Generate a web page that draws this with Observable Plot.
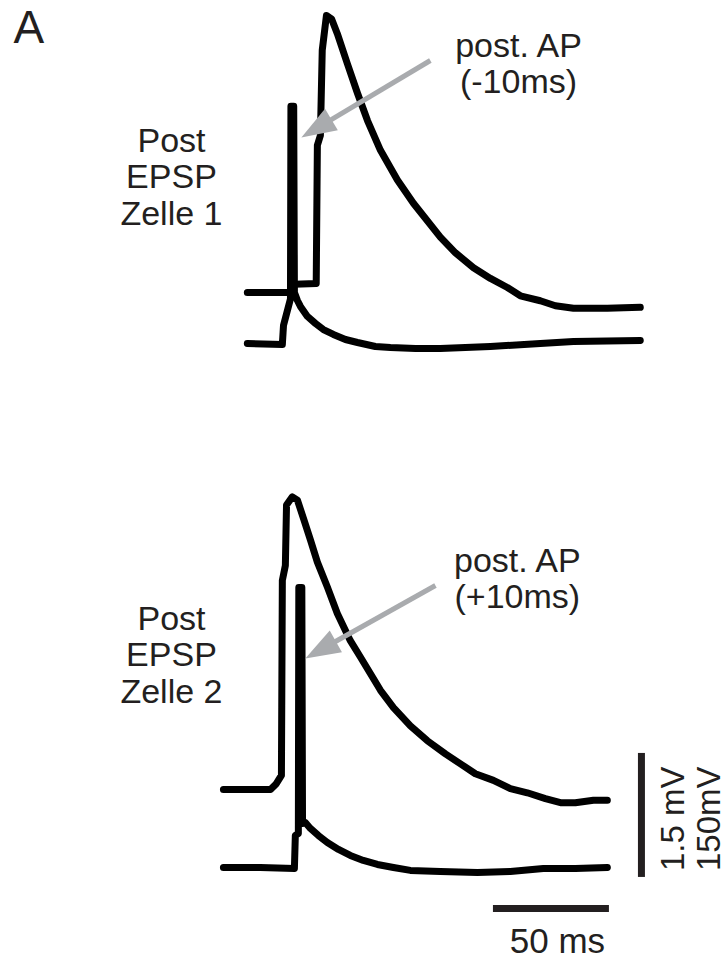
<!DOCTYPE html>
<html><head><meta charset="utf-8">
<script src="https://cdn.jsdelivr.net/npm/d3@7"></script>
<script src="https://cdn.jsdelivr.net/npm/@observablehq/plot@0.6"></script>
<style>html,body{margin:0;padding:0;background:#fff;} #chart svg{display:block;}</style>
</head><body><div id="chart"></div>
<script>
// ---- Data (time in ms on a common time base; voltage relative to each trace's baseline) ----
// Cell 1: postsynaptic EPSP (mV) and postsynaptic AP (mV), AP 10 ms before EPSP
const cell1EpspTime = [10.3, 28.8, 30.6, 40.0, 40.5, 41.8, 42.6, 44.4, 46.6, 49.1, 53.4, 57.8, 62.1, 67.7, 75.0, 81.9, 93.5, 100.0, 107.8, 115.1, 122.4, 128.0, 136.6, 143.1, 150.9, 165.5, 179.7];
const cell1EpspMv   = [0, 0, 0.10, 0.11, 1.78, 1.90, 2.93, 3.35, 3.31, 3.13, 2.77, 2.41, 2.08, 1.72, 1.36, 1.08, 0.67, 0.48, 0.30, 0.17, 0.06, -0.04, -0.10, -0.16, -0.19, -0.19, -0.18];
const cell1ApTime   = [10.3, 25.4, 25.9, 28.9, 29.1, 30.3, 30.6, 31.9, 33.2, 36.2, 39.7, 43.1, 47.4, 52.6, 57.8, 65.5, 72.0, 82.8, 93.5, 115.1, 136.6, 150.9, 179.7];
const cell1ApMv     = [0, -1.2, 22, 54, 287, 287, 61.7, 52.0, 44.8, 32.7, 24.2, 16.9, 10.9, 4.8, 1.2, -3.6, -4.8, -6.0, -6.0, -3.6, 0, 2.4, 3.6];
// Cell 2: AP 10 ms after EPSP onset
const cell2EpspTime = [0, 20.3, 22.8, 25.0, 25.4, 26.7, 27.2, 29.7, 31.9, 34.5, 37.5, 40.5, 44.8, 49.1, 54.7, 59.1, 63.4, 67.7, 73.3, 80.6, 87.9, 95.7, 102.2, 108.6, 116.4, 123.7, 131.0, 138.8, 145.3, 151.7, 159.5, 165.5];
const cell2EpspMv   = [0, 0, 0.07, 0.17, 2.53, 2.71, 3.44, 3.54, 3.50, 3.28, 3.02, 2.75, 2.45, 2.13, 1.80, 1.60, 1.40, 1.20, 0.99, 0.77, 0.59, 0.43, 0.31, 0.19, 0.11, 0.01, -0.04, -0.11, -0.16, -0.16, -0.13, -0.13];
const cell2ApTime   = [0, 15.9, 30.6, 31.0, 32.3, 32.5, 33.8, 34.1, 35.3, 37.5, 40.9, 44.8, 49.6, 54.7, 60.3, 66.4, 73.3, 80.6, 93.5, 109.5, 123.7, 137.9, 151.7, 165.5];
const cell2ApMv     = [0, 0, -1.2, 38.7, 41.1, 338.7, 338.7, 53.2, 54.4, 47.2, 38.7, 30.2, 21.8, 14.5, 8.5, 3.6, 0, -3.6, -4.8, -6.0, -4.8, -1.2, -1.2, 0];

// Labels
const panelLetter = "A";
const cellLabels = ["Post\nEPSP\nZelle 1", "Post\nEPSP\nZelle 2"];
const apLabels = ["post. AP\n(-10ms)", "post. AP\n(+10ms)"];
const voltageBarLabels = ["1.5 mV", "150mV"];
const timeBarLabel = "50 ms";
const epspBarMv = 1.5, apBarMv = 150, timeBarMs = 50;

// ---- Layout (display units: ms horizontally, EPSP-mV vertically) ----
const W = 727, H = 963;
const X_DOMAIN = [-96.1, 217.3];
const Y_DOMAIN = [-11.649, 0];
const AP_FACTOR = epspBarMv / apBarMv;
const traceOffsets = {epsp1: -3.532, ap1: -4.149, epsp2: -9.544, ap2: -10.487};
const FONT = "'Liberation Sans', Arial, Helvetica, sans-serif";
const INK = "#231f20";
const ARROW = "#a9abae";

const traces = [
  {name: "epsp1", t: cell1EpspTime, v: cell1EpspMv, f: 1},
  {name: "ap1", t: cell1ApTime, v: cell1ApMv, f: AP_FACTOR},
  {name: "epsp2", t: cell2EpspTime, v: cell2EpspMv, f: 1},
  {name: "ap2", t: cell2ApTime, v: cell2ApMv, f: AP_FACTOR}
];
const rows = traces.flatMap(tr => tr.t.map((t, i) => ({trace: tr.name, t, y: traceOffsets[tr.name] + tr.v[i] * tr.f})));

// Annotation anchors
const cellLabelPos = [{t: -22.4, y: -1.512}, {t: -22.4, y: -7.294}];
const apLabelPos = [{t: 127.2, y: -0.375}, {t: 126.7, y: -6.605}];
const arrows = [
  {x1: 89.2, y1: -0.726, x2: 33.6, y2: -1.657},
  {x1: 91.4, y1: -7.076, x2: 35.3, y2: -7.959}
];
const vBar = {t: 180.2, y0: -10.608};
const hBar = {t0: 116.4, y: -10.983};

const xs = Plot.scale({x: {domain: X_DOMAIN, range: [0, W]}});
const ys = Plot.scale({y: {domain: Y_DOMAIN, range: [H, 0]}});
const headAngle = d => Math.atan2(xs.apply(d.x2) - xs.apply(d.x1), -(ys.apply(d.y2) - ys.apply(d.y1))) * 180 / Math.PI;
const arrowHead = {draw(ctx) { ctx.moveTo(0, 0); ctx.lineTo(-12.5, 35); ctx.lineTo(12.5, 35); ctx.closePath(); }};

const chart = Plot.plot({
  width: W, height: H,
  marginTop: 0, marginRight: 0, marginBottom: 0, marginLeft: 0,
  x: {domain: X_DOMAIN, range: [0, W], axis: null},
  y: {domain: Y_DOMAIN, range: [H, 0], axis: null},
  style: {fontFamily: FONT, background: "#fff"},
  marks: [
    Plot.line(rows, {x: "t", y: "y", z: "trace", stroke: "#000", strokeWidth: 7, strokeLinejoin: "round", strokeLinecap: "round"}),
    Plot.arrow(arrows, {x1: "x1", y1: "y1", x2: "x2", y2: "y2", stroke: ARROW, strokeWidth: 5, headLength: 0, insetEnd: 30, strokeLinecap: "butt"}),
    Plot.dot(arrows, {x: "x2", y: "y2", symbol: arrowHead, rotate: headAngle, fill: ARROW, stroke: "none", r: 10}),
    Plot.ruleX([vBar], {x: "t", y1: "y0", y2: d => d.y0 + epspBarMv, stroke: INK, strokeWidth: 7}),
    Plot.ruleY([hBar], {y: "y", x1: "t0", x2: d => d.t0 + timeBarMs, stroke: INK, strokeWidth: 7}),
    Plot.text([panelLetter], {x: -90.5, y: -0.121, text: d => d, fontSize: 46, textAnchor: "start", lineAnchor: "top", fill: INK}),
    Plot.text(cellLabels, {x: (d, i) => cellLabelPos[i].t, y: (d, i) => cellLabelPos[i].y, text: d => d, fontSize: 34, lineHeight: 1.08, textAnchor: "middle", lineAnchor: "top", fill: INK}),
    Plot.text(apLabels, {x: (d, i) => apLabelPos[i].t, y: (d, i) => apLabelPos[i].y, text: d => d, fontSize: 34, lineHeight: 1.06, textAnchor: "middle", lineAnchor: "top", fill: INK}),
    Plot.text([timeBarLabel], {x: hBar.t0 + timeBarMs / 2 + 2.6, y: -11.225, text: d => d, fontSize: 35, textAnchor: "middle", lineAnchor: "top", fill: INK}),
    Plot.text(voltageBarLabels, {x: (d, i) => [194.0, 209.4][i], y: vBar.y0 + epspBarMv / 2 - 0.04, text: d => d, fontSize: 33, rotate: -90, textAnchor: "middle", lineAnchor: "middle", fill: INK})
  ]
});
document.getElementById("chart").appendChild(chart);
</script>
</body></html>
